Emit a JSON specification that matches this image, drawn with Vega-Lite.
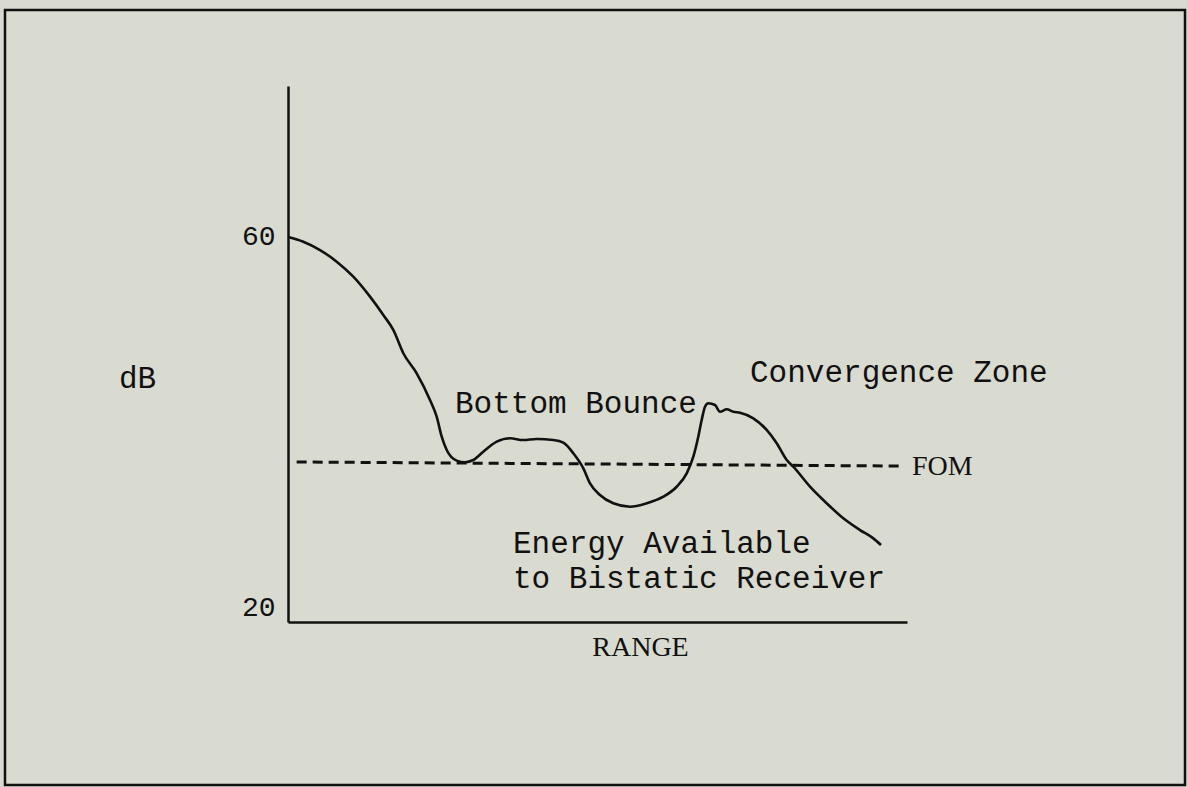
{
  "$schema": "https://vega.github.io/schema/vega-lite/v6.json",
  "width": 619,
  "height": 536,
  "autosize": "none",
  "padding": {"left": 288, "top": 86, "right": 280, "bottom": 165},
  "background": "#d9dad0",
  "config": {"view": {"stroke": null}},
  "datasets": {
    "curve": [
      {"range": 0.0, "db": 60.0}, {"range": 2.47, "db": 59.49}, {"range": 5.17, "db": 58.59},
      {"range": 7.87, "db": 57.33}, {"range": 10.55, "db": 55.71}, {"range": 13.25, "db": 53.55},
      {"range": 15.4, "db": 51.57}, {"range": 17.01, "db": 49.95}, {"range": 18.63, "db": 47.43},
      {"range": 20.79, "db": 45.26}, {"range": 22.94, "db": 42.38}, {"range": 24.02, "db": 40.57},
      {"range": 24.83, "db": 38.41}, {"range": 25.64, "db": 36.97}, {"range": 27.25, "db": 35.82},
      {"range": 28.59, "db": 35.64}, {"range": 29.94, "db": 35.89}, {"range": 31.55, "db": 36.79},
      {"range": 33.72, "db": 37.87}, {"range": 35.86, "db": 38.24}, {"range": 38.01, "db": 38.05},
      {"range": 40.18, "db": 38.16}, {"range": 42.86, "db": 38.05}, {"range": 44.48, "db": 37.76},
      {"range": 46.09, "db": 36.62}, {"range": 47.71, "db": 34.99}, {"range": 48.79, "db": 33.37},
      {"range": 50.4, "db": 32.11}, {"range": 52.55, "db": 31.21}, {"range": 55.25, "db": 30.84},
      {"range": 57.95, "db": 31.21}, {"range": 60.63, "db": 31.92}, {"range": 62.79, "db": 33.0},
      {"range": 64.41, "db": 34.45}, {"range": 65.48, "db": 36.25}, {"range": 66.28, "db": 38.41},
      {"range": 66.83, "db": 40.22}, {"range": 67.37, "db": 41.65}, {"range": 67.9, "db": 42.02},
      {"range": 68.98, "db": 41.84}, {"range": 69.79, "db": 41.11}, {"range": 70.87, "db": 41.37},
      {"range": 71.94, "db": 41.11}, {"range": 73.02, "db": 41.0}, {"range": 75.17, "db": 40.4},
      {"range": 77.33, "db": 39.14}, {"range": 78.95, "db": 37.7}, {"range": 80.57, "db": 35.89},
      {"range": 81.63, "db": 35.17}, {"range": 84.33, "db": 33.01}, {"range": 87.03, "db": 31.21},
      {"range": 89.71, "db": 29.59}, {"range": 92.41, "db": 28.32}, {"range": 94.56, "db": 27.42},
      {"range": 95.8, "db": 26.7}
    ],
    "fom": [
      {"range": 1.4, "db": 35.68},
      {"range": 98.7, "db": 35.24}
    ],
    "labels": [
      {"range": 26.98, "db": 40.97, "text": "Bottom Bounce"},
      {"range": 74.64, "db": 44.36, "text": "Convergence Zone"},
      {"range": 36.35, "db": 25.81, "text": "Energy Available"},
      {"range": 36.35, "db": 22.02, "text": "to Bistatic Receiver"}
    ],
    "fomlabel": [
      {"range": 100.8, "db": 34.27, "text": "FOM"}
    ],
    "frame": [
      {"x0": -45.72, "x1": 144.91, "y0": 0.76, "y1": 84.54}
    ]
  },
  "layer": [
    {
      "data": {"name": "frame"},
      "mark": {"type": "rect", "fill": null, "stroke": "#111111", "strokeWidth": 2.5, "clip": false},
      "encoding": {
        "x": {"field": "x0", "type": "quantitative", "scale": {"domain": [0, 100], "nice": false, "zero": false}, "axis": {"title": "RANGE", "labels": false, "ticks": false, "grid": false, "domainColor": "#111111", "domainWidth": 2.5, "titleFont": "Liberation Serif", "titleFontSize": 28, "titleFontWeight": "normal", "titleColor": "#111111", "titleX": 352, "titleY": 33, "titleAlign": "center", "titleBaseline": "alphabetic"}},
        "x2": {"field": "x1"},
        "y": {"field": "y0", "type": "quantitative", "scale": {"domain": [18.38, 76.32], "nice": false, "zero": false}, "axis": {"title": "dB", "values": [20, 60], "ticks": false, "grid": false, "domainColor": "#111111", "domainWidth": 2.5, "labelFont": "Liberation Mono", "labelFontSize": 28, "labelColor": "#111111", "labelPadding": 13, "titleFont": "Liberation Mono", "titleFontSize": 31, "titleFontWeight": "normal", "titleColor": "#111111", "titleAngle": 0, "titleX": -151, "titleY": 301, "titleAlign": "center", "titleBaseline": "alphabetic"}},
        "y2": {"field": "y1"}
      }
    },
    {
      "data": {"name": "fom"},
      "mark": {"type": "line", "color": "#111111", "strokeWidth": 3, "strokeDash": [10, 6]},
      "encoding": {
        "x": {"field": "range", "type": "quantitative"},
        "y": {"field": "db", "type": "quantitative"}
      }
    },
    {
      "data": {"name": "curve"},
      "mark": {"type": "line", "color": "#111111", "strokeWidth": 2.6, "interpolate": "monotone"},
      "encoding": {
        "x": {"field": "range", "type": "quantitative"},
        "y": {"field": "db", "type": "quantitative"}
      }
    },
    {
      "data": {"name": "labels"},
      "mark": {"type": "text", "align": "left", "baseline": "alphabetic", "font": "Liberation Mono", "fontSize": 31, "color": "#111111", "clip": false},
      "encoding": {
        "x": {"field": "range", "type": "quantitative"},
        "y": {"field": "db", "type": "quantitative"},
        "text": {"field": "text"}
      }
    },
    {
      "data": {"name": "fomlabel"},
      "mark": {"type": "text", "align": "left", "baseline": "alphabetic", "font": "Liberation Serif", "fontSize": 28, "color": "#111111", "clip": false},
      "encoding": {
        "x": {"field": "range", "type": "quantitative"},
        "y": {"field": "db", "type": "quantitative"},
        "text": {"field": "text"}
      }
    }
  ]
}
